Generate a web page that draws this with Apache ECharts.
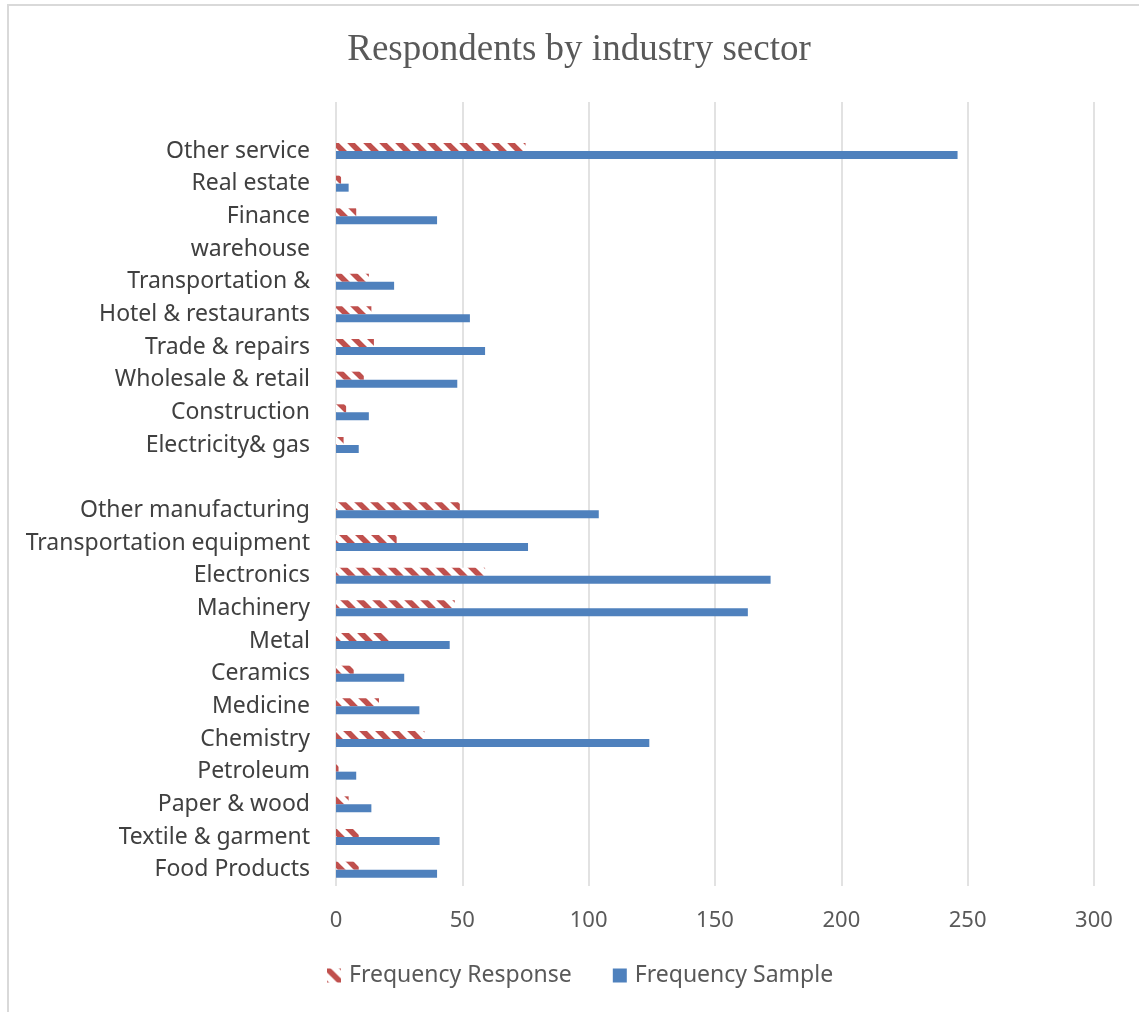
<!DOCTYPE html>
<html>
<head>
<meta charset="utf-8">
<script src="https://cdn.jsdelivr.net/npm/echarts@6/dist/echarts.min.js"></script>
<style>
html,body{margin:0;padding:0;background:#fff;}
#chart{width:1139px;height:1012px;}
</style>
</head>
<body>
<div id="chart"></div>
<script>
// Categories listed bottom to top
const categories = ['Food Products','Textile & garment','Paper & wood','Petroleum','Chemistry','Medicine','Ceramics','Metal','Machinery','Electronics','Transportation equipment','Other manufacturing','','Electricity& gas','Construction','Wholesale & retail','Trade & repairs','Hotel & restaurants','Transportation &','warehouse','Finance','Real estate','Other service',' '];
const frequencyResponse = [9,9,5,1,35,17,7,21,47,59,24,49,null,3,4,11,15,14,13,null,8,2,75,null];
const frequencySample = [40,41,14,8,124,33,27,45,163,172,76,104,null,9,13,48,59,53,23,null,40,5,246,null];
const xTicks = [0,50,100,150,200,250,300];

function makeHatch(){
  const s = 16;
  const c = document.createElement('canvas');
  c.width = s; c.height = s;
  const ctx = c.getContext('2d');
  ctx.fillStyle = '#ffffff';
  ctx.fillRect(0,0,s,s);
  ctx.strokeStyle = '#C0504D';
  ctx.lineWidth = 5.5;
  [-s,0,s].forEach(function(o){
    ctx.beginPath();
    ctx.moveTo(o-3,-3);
    ctx.lineTo(o+s+3,s+3);
    ctx.stroke();
  });
  return c;
}
const hatch = {image: makeHatch(), repeat: 'repeat'};

const chart = echarts.init(document.getElementById('chart'));
chart.setOption({
  animation: false,
  backgroundColor: '#ffffff',
  title: {
    text: 'Respondents by industry sector',
    left: 574,
    textAlign: 'center',
    top: 27,
    textStyle: {fontFamily: 'Liberation Serif', fontSize: 37, fontWeight: 'normal', color: '#595959'}
  },
  graphic: [{
    type: 'rect',
    shape: {x: 8, y: 5, width: 1300, height: 1200},
    style: {fill: 'none', stroke: '#D9D9D9', lineWidth: 2},
    silent: true
  }],
  legend: {
    bottom: 20,
    left: 322,
    itemWidth: 14,
    itemHeight: 14,
    itemGap: 41,
    icon: 'rect',
    textStyle: {fontFamily: 'Noto Sans', fontSize: 23, color: '#595959', padding: [0, 0, 0, 3]},
    data: ['Frequency Response','Frequency Sample']
  },
  grid: {left: 336, right: 45, top: 102, bottom: 126, containLabel: false},
  xAxis: {
    type: 'value',
    min: xTicks[0],
    max: xTicks[xTicks.length-1],
    interval: 50,
    axisLine: {show: false},
    axisTick: {show: false},
    splitLine: {show: true, lineStyle: {color: '#D9D9D9', width: 1.5}},
    axisLabel: {margin: 24, fontFamily: 'Noto Sans', fontSize: 22, color: '#595959'}
  },
  yAxis: {
    type: 'category',
    data: categories,
    axisLine: {show: false},
    axisTick: {show: false},
    axisLabel: {margin: 26, fontFamily: 'Noto Sans', fontSize: 23, color: '#404040', interval: 0}
  },
  series: [
    {
      name: 'Frequency Response',
      type: 'bar',
      data: frequencyResponse,
      barWidth: 8,
      barGap: '0%',
      itemStyle: {color: hatch}
    },
    {
      name: 'Frequency Sample',
      type: 'bar',
      data: frequencySample,
      barWidth: 8,
      barGap: '0%',
      itemStyle: {color: '#4F81BD'}
    }
  ]
});
</script>
</body>
</html>
